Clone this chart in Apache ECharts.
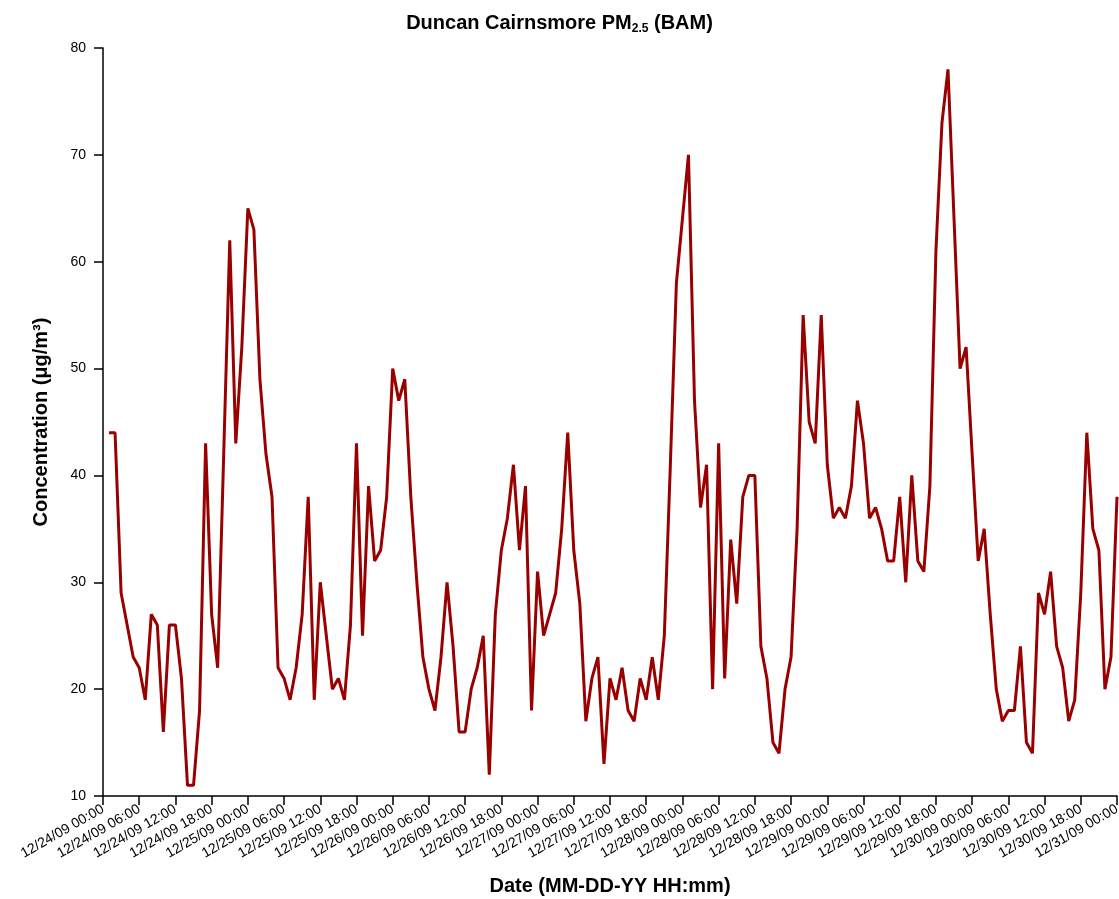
<!DOCTYPE html>
<html>
<head>
<meta charset="utf-8">
<title>Duncan Cairnsmore PM2.5 (BAM)</title>
<script src="https://cdn.jsdelivr.net/npm/echarts@6/dist/echarts.min.js"></script>
<style>
  html, body { margin: 0; padding: 0; background: #fff; }
  #chart { width: 1119px; height: 899px; }
</style>
</head>
<body>
<div id="chart"></div>
<script>
// hourly BAM readings, first one at 12/24/09 01:00, last at 12/31/09 00:00
const startHour = 1;
const pm25 = [
  44, 44, 29, 26, 23, 22, 19, 27, 26, 16, 26, 26, 21, 11, 11, 18, 43, 27, 22, 42, 62, 43, 52, 65,
  63, 49, 42, 38, 22, 21, 19, 22, 27, 38, 19, 30, 25, 20, 21, 19, 26, 43, 25, 39, 32, 33, 38, 50,
  47, 49, 38, 30, 23, 20, 18, 23, 30, 24, 16, 16, 20, 22, 25, 12, 27, 33, 36, 41, 33, 39, 18, 31,
  25, 27, 29, 35, 44, 33, 28, 17, 21, 23, 13, 21, 19, 22, 18, 17, 21, 19, 23, 19, 25, 41, 58, 64,
  70, 47, 37, 41, 20, 43, 21, 34, 28, 38, 40, 40, 24, 21, 15, 14, 20, 23, 35, 55, 45, 43, 55, 41,
  36, 37, 36, 39, 47, 43, 36, 37, 35, 32, 32, 38, 30, 40, 32, 31, 39, 61, 73, 78, 64, 50, 52, 42,
  32, 35, 27, 20, 17, 18, 18, 24, 15, 14, 29, 27, 31, 24, 22, 17, 19, 29, 44, 35, 33, 20, 23, 38
];

// one label every 6 hours
const tickLabels = [
  '12/24/09 00:00', '12/24/09 06:00', '12/24/09 12:00', '12/24/09 18:00',
  '12/25/09 00:00', '12/25/09 06:00', '12/25/09 12:00', '12/25/09 18:00',
  '12/26/09 00:00', '12/26/09 06:00', '12/26/09 12:00', '12/26/09 18:00',
  '12/27/09 00:00', '12/27/09 06:00', '12/27/09 12:00', '12/27/09 18:00',
  '12/28/09 00:00', '12/28/09 06:00', '12/28/09 12:00', '12/28/09 18:00',
  '12/29/09 00:00', '12/29/09 06:00', '12/29/09 12:00', '12/29/09 18:00',
  '12/30/09 00:00', '12/30/09 06:00', '12/30/09 12:00', '12/30/09 18:00',
  '12/31/09 00:00'
];
const tickStep = 6;

const chart = echarts.init(document.getElementById('chart'));
const seriesData = pm25.map((v, i) => [startHour + i, v]);
const font = 'Liberation Sans, Arial, sans-serif';

chart.setOption({
  animation: false,
  title: {
    left: 'center',
    top: 5,
    text: '{a|Duncan Cairnsmore PM}{s|2.5}{a| (BAM)}',
    textStyle: {
      rich: {
        a: { fontFamily: font, fontSize: 20, fontWeight: 'bold', color: '#000', lineHeight: 26 },
        s: { fontFamily: font, fontSize: 12, fontWeight: 'bold', color: '#000', padding: [12, 0, 0, 0] }
      }
    }
  },
  grid: { left: 103, right: 2, top: 48, bottom: 103, containLabel: false, outerBoundsMode: 'none' },
  xAxis: {
    type: 'value',
    min: 0,
    max: (tickLabels.length - 1) * tickStep,
    interval: tickStep,
    name: 'Date (MM-DD-YY HH:mm)',
    nameLocation: 'middle',
    nameGap: 80,
    nameTextStyle: { fontFamily: font, fontSize: 20, fontWeight: 'bold', color: '#000' },
    splitLine: { show: false },
    axisLine: { lineStyle: { color: '#000', width: 1.5 } },
    axisTick: { length: 9, lineStyle: { color: '#000', width: 1.5 } },
    axisLabel: {
      rotate: 30,
      fontFamily: font,
      fontSize: 14,
      color: '#000',
      margin: 12,
      formatter: v => tickLabels[Math.round(v / tickStep)] || ''
    }
  },
  yAxis: {
    type: 'value',
    min: 10,
    max: 80,
    interval: 10,
    name: 'Concentration (μg/m³)',
    nameLocation: 'middle',
    nameGap: 52,
    nameRotate: 90,
    nameTextStyle: { fontFamily: font, fontSize: 20, fontWeight: 'bold', color: '#000' },
    splitLine: { show: false },
    axisLine: { show: true, lineStyle: { color: '#000', width: 1.5 } },
    axisTick: { show: true, length: 9, lineStyle: { color: '#000', width: 1.5 } },
    axisLabel: { fontFamily: font, fontSize: 14, color: '#000', margin: 17 }
  },
  series: [
    {
      name: 'PM2.5',
      type: 'line',
      data: seriesData,
      showSymbol: false,
      lineStyle: { color: '#990000', width: 3 },
      itemStyle: { color: '#990000' }
    }
  ]
});
</script>
</body>
</html>
